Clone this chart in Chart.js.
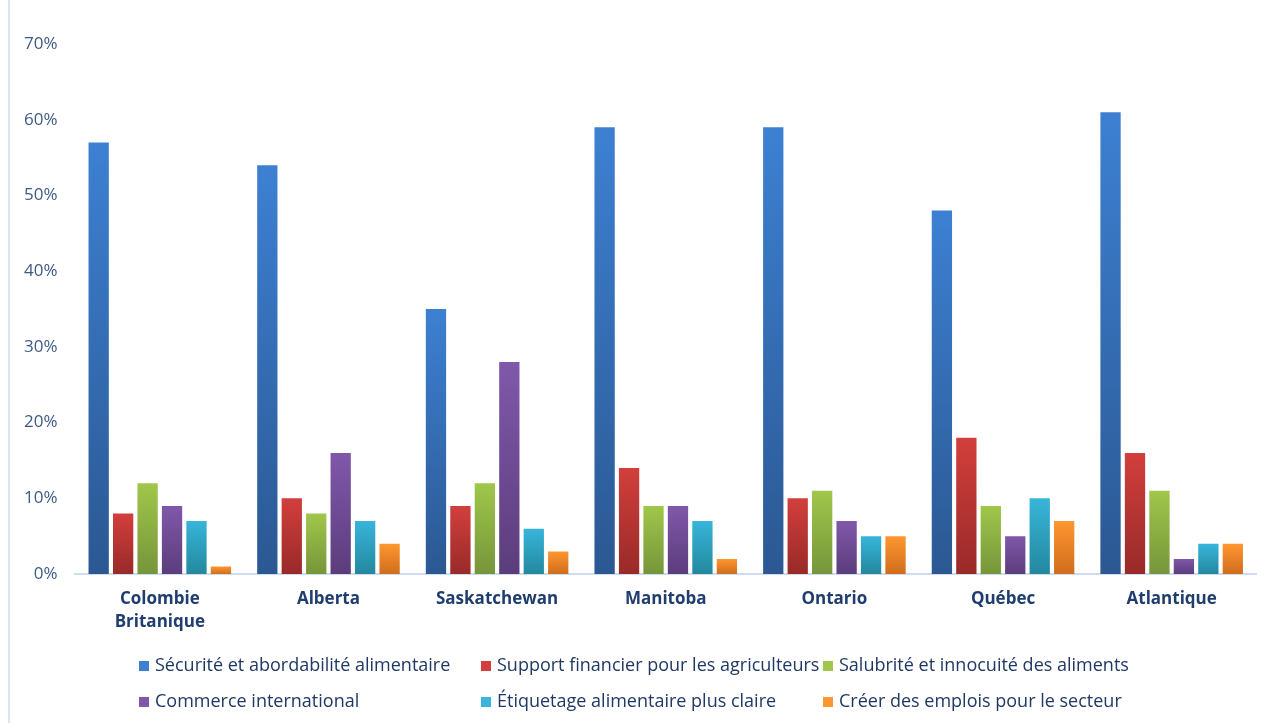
<!DOCTYPE html>
<html>
<head>
<meta charset="utf-8">
<script src="https://cdn.jsdelivr.net/npm/chart.js@4.4.0/dist/chart.umd.min.js"></script>
<style>
  html, body { margin: 0; padding: 0; background: #fff; }
  #wrap { position: relative; width: 1274px; height: 723px; }
  #edge { position: absolute; left: 8px; top: 0; width: 2px; height: 723px; background: #dbe6f4; }
  #legend {
    position: absolute; left: 139px; top: 652px; width: 1030px;
    display: grid; grid-template-columns: 342px 342px 346px; row-gap: 12px;
    font-family: "Open Sans", sans-serif; font-size: 18px; color: #1f3864;
  }
  #legend span.box { display: inline-block; width: 10px; height: 10px; margin-right: 6px; }
</style>
</head>
<body>
<div id="wrap">
  <canvas id="myChart"></canvas>
  <div id="edge"></div>
  <div id="legend"></div>
</div>
<script>
const categories = [["Colombie", "Britanique"], "Alberta", "Saskatchewan", "Manitoba", "Ontario", "Québec", "Atlantique"];
const seriesNames = ["Sécurité et abordabilité alimentaire", "Support financier pour les agriculteurs",
    "Salubrité et innocuité des aliments", "Commerce international",
    "Étiquetage alimentaire plus claire", "Créer des emplois pour le secteur"];
const securite = [57, 54, 35, 59, 59, 48, 61];
const support = [8, 10, 9, 14, 10, 18, 16];
const salubrite = [12, 8, 12, 9, 11, 9, 11];
const commerce = [9, 16, 28, 9, 7, 5, 2];
const etiquetage = [7, 7, 6, 7, 5, 10, 4];
const emplois = [1, 4, 3, 2, 5, 7, 4];
const yTicks = [0, 10, 20, 30, 40, 50, 60, 70];

const topColors = ['#3d80d2', '#d23f3c', '#a0c74b', '#8058aa', '#38b5da', '#ff9630'];
const bottomColors = ['#2b5892', '#982a29', '#76953a', '#5b3d7c', '#23889e', '#cf6d1d'];
const allData = [securite, support, salubrite, commerce, etiquetage, emplois];

function barGradient(i) {
    return function (context) {
        const chart = context.chart;
        if (!chart.chartArea || context.parsed === undefined) return topColors[i];
        const yScale = chart.scales.y;
        const top = yScale.getPixelForValue(context.parsed.y);
        const bottom = yScale.getPixelForValue(0);
        if (!isFinite(top) || bottom - top < 1) return topColors[i];
        const g = chart.ctx.createLinearGradient(0, top, 0, bottom);
        g.addColorStop(0, topColors[i]);
        g.addColorStop(1, bottomColors[i]);
        return g;
    };
}

const ctx = document.getElementById('myChart');
ctx.width = 1274; ctx.height = 723;
const myChart = new Chart(ctx, {
    type: 'bar',
    data: {
        labels: categories,
        datasets: allData.map((d, i) => ({
            label: seriesNames[i],
            data: d,
            backgroundColor: barGradient(i),
            borderWidth: 0,
            categoryPercentage: 0.87,
            barPercentage: 0.83
        }))
    },
    options: {
        responsive: false,
        animation: false,
        layout: { padding: { top: 44, left: 14, right: 18, bottom: 83 } },
        plugins: { legend: { display: false }, tooltip: { enabled: false } },
        scales: {
            x: {
                grid: { display: false },
                border: { color: '#cddcf0', width: 2 },
                ticks: {
                    color: '#1f3d6e',
                    padding: 6,
                    font: { family: 'Open Sans', size: 17, weight: 'bold', lineHeight: 1.35 }
                }
            },
            y: {
                min: 0, max: 70,
                afterBuildTicks: axis => { axis.ticks = yTicks.map(v => ({ value: v })); },
                grid: { display: false },
                border: { display: false },
                ticks: {
                    color: '#3d5a85',
                    padding: 10,
                    font: { family: 'Open Sans', size: 17 },
                    callback: v => v + '%'
                }
            }
        }
    }
});

// legend in fixed columns like the original
const legend = document.getElementById('legend');
seriesNames.forEach((name, i) => {
    const item = document.createElement('div');
    item.innerHTML = '<span class="box" style="background:' + topColors[i] + '"></span>' + name;
    legend.appendChild(item);
});
</script>
</body>
</html>
